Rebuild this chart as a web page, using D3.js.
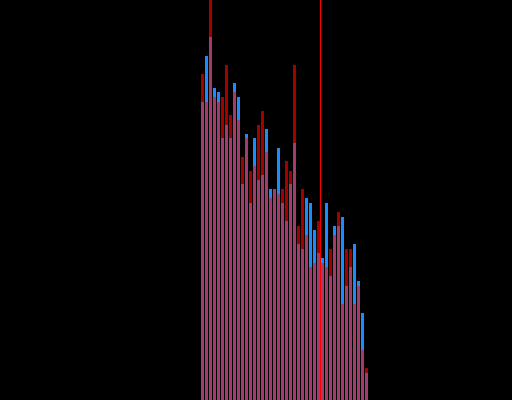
<!DOCTYPE html>
<html>
<head>
<meta charset="utf-8">
<script src="https://cdn.jsdelivr.net/npm/d3@7"></script>
<style>
  html, body { margin: 0; padding: 0; background: #000; overflow: hidden; }
  svg { display: block; }
</style>
</head>
<body>
<svg id="chart" width="512" height="400"></svg>
<script>
// Bin start values (each bin is 1 unit wide)
const binStarts = [50,51,52,53,54,55,56,57,58,59,60,61,62,63,64,65,66,67,68,69,70,
                   71,72,73,74,75,76,77,78,79,80,81,82,83,84,85,86,87,88,89,90,91];
// Series A (dark red) counts
const seriesA = [326,298,430,303,298,303,335,285,308,280,243,262,229,234,275,289,248,202,211,206,211,
                 239,229,335,174,211,165,133,137,179,137,133,151,165,188,96,151,151,96,114,50,32];
// Series B (blue) counts
const seriesB = [298,344,363,312,308,262,275,262,317,303,216,266,197,262,220,225,271,211,211,252,197,
                 179,216,257,156,151,202,197,170,147,142,197,124,174,174,183,114,133,156,119,87,27];
// Reference marker value
const markerValue = [80];

const W = 512, H = 400;
const svg = d3.select("#chart");
svg.append("rect").attr("width", W).attr("height", H).attr("fill", "#000");

const x = d3.scaleLinear().domain([0, 128]).range([0, W]);
const y = d3.scaleLinear().domain([0, 400]).range([H, 0]);

const data = binStarts.map((b, i) => ({ x0: b, x1: b + 1, a: seriesA[i], b: seriesB[i] }));

const g = svg.append("g").attr("shape-rendering", "crispEdges");

function bars(cls, color, valueFn) {
  g.selectAll("rect." + cls)
    .data(data)
    .join("rect")
    .attr("class", cls)
    .attr("x", d => x(d.x0) + 1)
    .attr("width", d => Math.max(0, x(d.x1) - x(d.x0) - 1))
    .attr("y", d => y(valueFn(d)))
    .attr("height", d => y(0) - y(valueFn(d)))
    .attr("fill", color);
}

bars("a", "#a40000", d => d.a);
bars("b", "#1a8cff", d => d.b);
bars("ab", "#a23c6c", d => Math.min(d.a, d.b));

svg.selectAll("line.marker")
  .data(markerValue)
  .join("line")
  .attr("class", "marker")
  .attr("x1", d => x(d) + 0.5)
  .attr("x2", d => x(d) + 0.5)
  .attr("y1", 0)
  .attr("y2", H)
  .attr("stroke", "#ff0000")
  .attr("stroke-width", 1);
</script>
</body>
</html>
